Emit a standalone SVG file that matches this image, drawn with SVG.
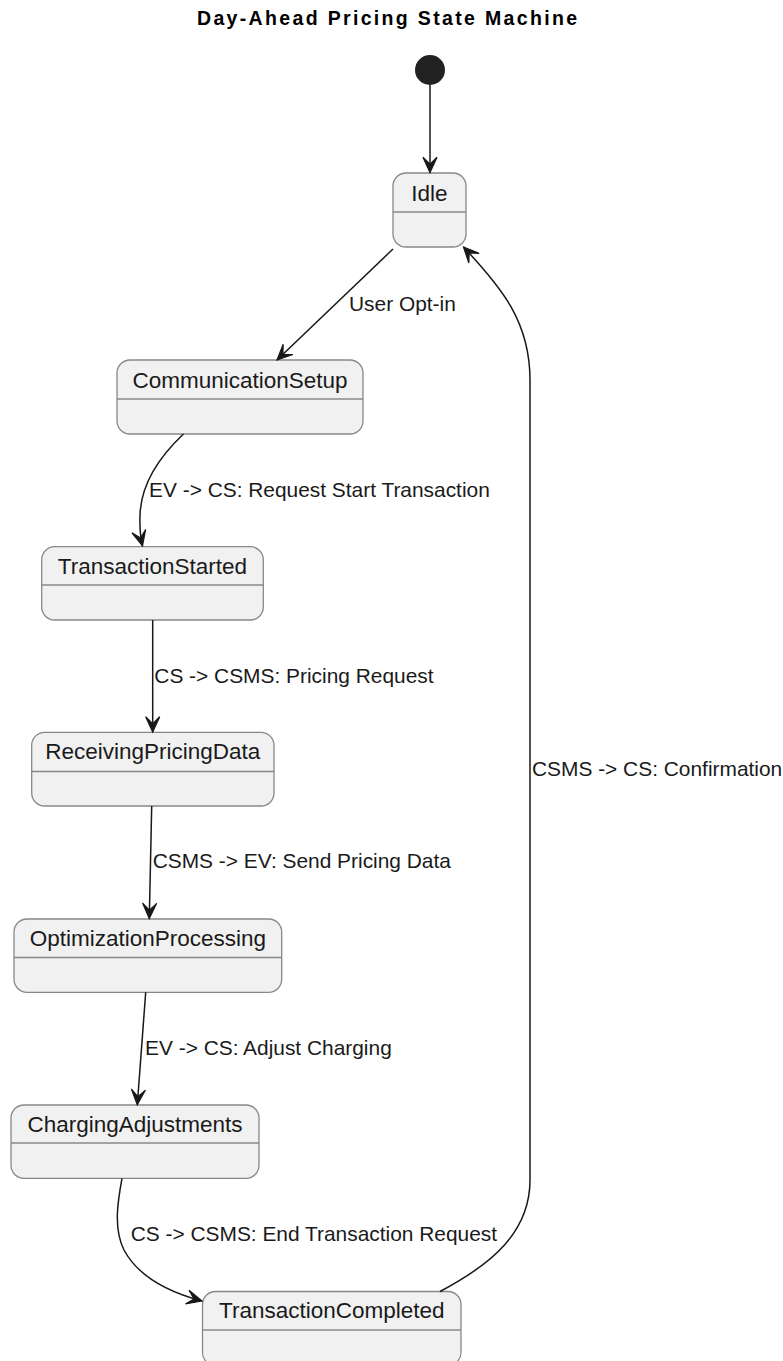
<svg xmlns="http://www.w3.org/2000/svg" width="783" height="1361" viewBox="0 0 783 1361">
<style>
.state rect{fill:#F1F1F1;stroke:#888888;stroke-width:1.3}
.state line{stroke:#888888;stroke-width:1.3}
.name{font-family:"Liberation Sans",Arial,sans-serif;font-size:22.5px;fill:#1a1a1a;text-anchor:middle}
.lbl{font-family:"Liberation Sans",Arial,sans-serif;font-size:20.9px;fill:#1a1a1a}
.edge{fill:none;stroke:#181818;stroke-width:1.5;marker-end:url(#arr)}
.title{font-family:"Liberation Sans",Arial,sans-serif;font-size:19.5px;font-weight:bold;fill:#000;text-anchor:middle}
</style>
<defs>
<marker id="arr" markerUnits="userSpaceOnUse" markerWidth="20" markerHeight="20" viewBox="-15 -8 17 16" refX="0" refY="0" orient="auto">
<path d="M0,0 L-13,-6 L-7,0 L-13,6 Z" fill="#181818" stroke="#181818" stroke-width="1" stroke-linejoin="miter"/>
</marker>
</defs>
<rect width="783" height="1361" fill="#FFFFFF"/>
<text class="title" x="387" y="25" textLength="380" lengthAdjust="spacing">Day-Ahead Pricing State Machine</text>

<g id="start"><circle cx="430" cy="70" r="15" fill="#222222"/></g>

<g id="Idle" class="state"><rect x="393" y="173" width="73" height="74" rx="13"/><line x1="393" y1="212" x2="466" y2="212"/><text class="name" x="429.5" y="200.5">Idle</text></g>
<g id="CommunicationSetup" class="state"><rect x="117" y="360" width="246" height="74" rx="13"/><line x1="117" y1="399" x2="363" y2="399"/><text class="name" x="240" y="387.5">CommunicationSetup</text></g>
<g id="TransactionStarted" class="state"><rect x="41.7" y="546.7" width="221.6" height="73.3" rx="13"/><line x1="41.7" y1="585" x2="263.3" y2="585"/><text class="name" x="152.5" y="573.5">TransactionStarted</text></g>
<g id="ReceivingPricingData" class="state"><rect x="31.7" y="732.3" width="242.3" height="73.7" rx="13"/><line x1="31.7" y1="771.5" x2="274" y2="771.5"/><text class="name" x="152.85" y="759">ReceivingPricingData</text></g>
<g id="OptimizationProcessing" class="state"><rect x="14" y="919" width="267.7" height="73.3" rx="13"/><line x1="14" y1="957.5" x2="281.7" y2="957.5"/><text class="name" x="147.85" y="946">OptimizationProcessing</text></g>
<g id="ChargingAdjustments" class="state"><rect x="11" y="1105" width="248" height="73.3" rx="13"/><line x1="11" y1="1143" x2="259" y2="1143"/><text class="name" x="135" y="1131.5">ChargingAdjustments</text></g>
<g id="TransactionCompleted" class="state"><rect x="202.5" y="1291.5" width="258.5" height="74" rx="13"/><line x1="202.5" y1="1330" x2="461" y2="1330"/><text class="name" x="331.75" y="1317.5">TransactionCompleted</text></g>

<g id="connectors">
<path class="edge" d="M430,85 L430,172.5"/>
<path class="edge" d="M393,249 L277,360"/>
<path class="edge" d="M183.5,434 C158,458 141,485 140,515 C139.5,530 141,540 142.5,546"/>
<path class="edge" d="M152.7,620 L152.7,732"/>
<path class="edge" d="M151.7,806 L149.3,918.5"/>
<path class="edge" d="M145.7,992.3 L137.3,1104.8"/>
<path class="edge" d="M122,1178.3 C118,1200 113,1228 124,1250 C138,1276 168,1292 202,1301"/>
<path class="edge" d="M440,1291.5 C492,1264 530,1232 530,1180 L530,380 C530,322 502,288 463.5,247"/>
<text class="lbl" x="349" y="310.5">User Opt-in</text>
<text class="lbl" x="149" y="497">EV -&gt; CS: Request Start Transaction</text>
<text class="lbl" x="154.3" y="682.5">CS -&gt; CSMS: Pricing Request</text>
<text class="lbl" x="152.7" y="868">CSMS -&gt; EV: Send Pricing Data</text>
<text class="lbl" x="145" y="1055">EV -&gt; CS: Adjust Charging</text>
<text class="lbl" x="130.7" y="1241">CS -&gt; CSMS: End Transaction Request</text>
<text class="lbl" x="532" y="776">CSMS -&gt; CS: Confirmation</text>
</g>
</svg>
